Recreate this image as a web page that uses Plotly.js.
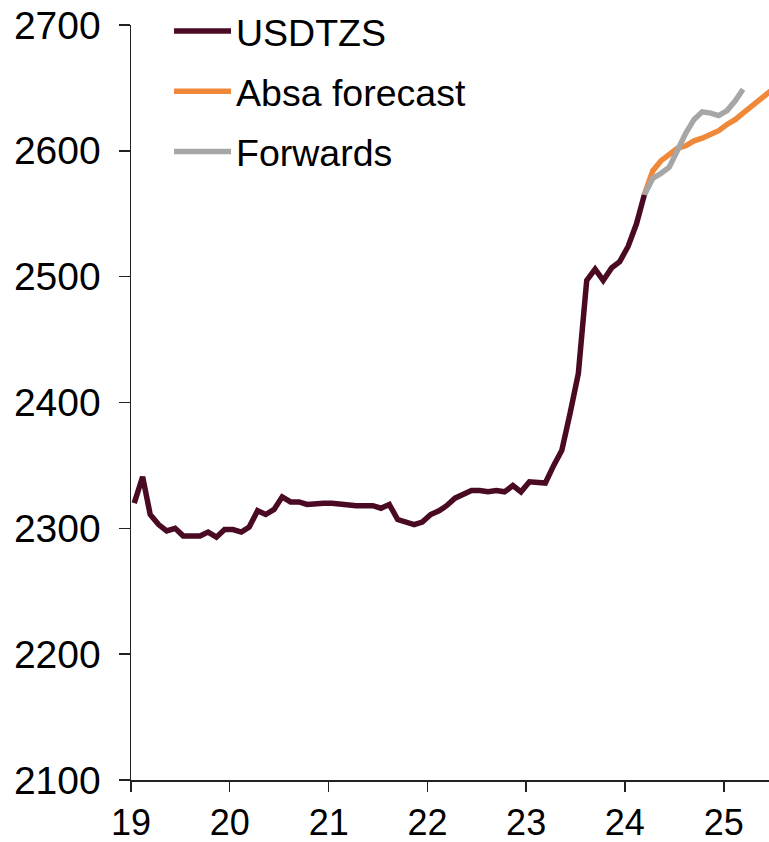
<!DOCTYPE html>
<html>
<head>
<meta charset="utf-8">
<script src="https://cdn.plot.ly/plotly-3.0.1.min.js"></script>
<style>html,body{margin:0;padding:0;background:#fff;}#chart{width:769px;height:842px;}</style>
</head>
<body>
<div id="chart"></div>
<script>
// Monthly USDTZS, Jan 2019 .. Mar 2024
var spotStart = [2019, 1];
var usdtzs = [
  2320, 2341, 2311, 2303, 2298, 2300, 2294, 2294, 2294, 2297, 2293, 2299,
  2299, 2297, 2301, 2314, 2311, 2315, 2325, 2321, 2321, 2319, 2320, 2320,
  2320, 2319, 2318, 2318, 2318, 2318, 2316, 2319, 2307, 2305, 2303, 2305,
  2311, 2314, 2318, 2324, 2327, 2330, 2330, 2329, 2330, 2329, 2334, 2329,
  2337, 2337, 2336, 2350, 2362, 2392, 2423, 2497, 2506, 2497, 2507, 2512,
  2524, 2542, 2565
];
// Absa forecast, Mar 2024 .. Jul 2025
var fcStart = [2024, 3];
var absaForecast = [
  2565, 2584, 2592, 2597, 2602, 2604, 2608, 2610, 2613, 2616,
  2621, 2625, 2630, 2635, 2640, 2646, 2651
];
// Forwards, Mar 2024 .. Mar 2025
var fwdStart = [2024, 3];
var forwards = [
  2565, 2578, 2582, 2587, 2600, 2614, 2625, 2631, 2630, 2628,
  2632, 2640, 2649
];
var seriesNames = ["USDTZS", "Absa forecast", "Forwards"];
var seriesColors = ["#4a0a24", "#f0883a", "#a6a6a6"];
var yTicks = [2100, 2200, 2300, 2400, 2500, 2600, 2700];

function monthDates(start, n) {
  var out = [];
  for (var i = 0; i < n; i++) {
    var m = start[1] - 1 + i;
    var y = start[0] + Math.floor(m / 12);
    var mm = (m % 12) + 1;
    out.push(y + "-" + (mm < 10 ? "0" + mm : mm) + "-13");
  }
  return out;
}

var font = "Liberation Sans, Arial, sans-serif";
var traces = [
  {x: monthDates(spotStart, usdtzs.length), y: usdtzs, name: seriesNames[0]},
  {x: monthDates(fcStart, absaForecast.length), y: absaForecast, name: seriesNames[1]},
  {x: monthDates(fwdStart, forwards.length), y: forwards, name: seriesNames[2]}
].map(function (t, i) {
  t.type = "scatter";
  t.mode = "lines";
  t.line = {color: seriesColors[i], width: 5.5};
  t.legendgroup = "g" + i;
  t.legendrank = i + 1;
  return t;
});
// draw spot on top
traces = [traces[1], traces[2], traces[0]];

var layout = {
  width: 769, height: 842,
  margin: {l: 131, r: 0, t: 25, b: 62},
  paper_bgcolor: "#fff", plot_bgcolor: "#fff",
  font: {family: font, size: 37.5, color: "#000"},
  showlegend: true,
  legend: {
    x: 0.0596, y: 1.033, xanchor: "left", yanchor: "top",
    traceorder: "grouped", tracegroupgap: 8.5, itemwidth: 57,
    bgcolor: "rgba(0,0,0,0)", font: {family: font, size: 37.5, color: "#000"}
  },
  xaxis: {
    type: "date",
    range: ["2019-01-01", "2025-06-17"],
    tick0: "2019-01-01", dtick: "M12", tickformat: "%y",
    showgrid: false, zeroline: false,
    showline: true, linecolor: "#222", linewidth: 1.5,
    ticks: "outside", ticklen: 10, tickcolor: "#222", tickwidth: 1.5,
    tickfont: {family: font, size: 36, color: "#000"}
  },
  yaxis: {
    range: [2100, 2700],
    tickvals: yTicks,
    showgrid: false, zeroline: false,
    showline: true, linecolor: "#222", linewidth: 1.5,
    ticks: "outside", ticklen: 11, tickcolor: "#222", tickwidth: 1.5,
    ticklabelstandoff: 10,
    tickfont: {family: font, size: 39, color: "#000"}
  }
};

Plotly.newPlot("chart", traces, layout, {displayModeBar: false, staticPlot: true});
</script>
</body>
</html>
